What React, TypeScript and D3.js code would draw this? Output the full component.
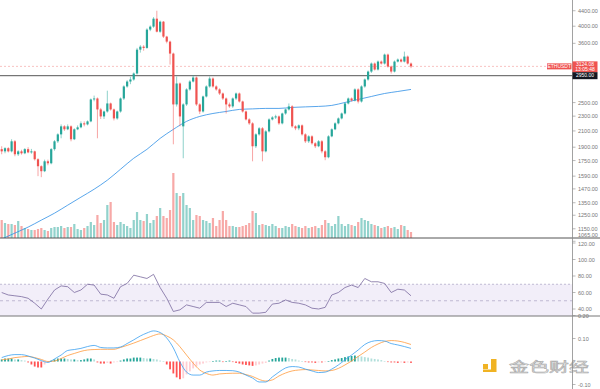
import React from 'react';
import * as d3 from 'd3';

// ETHUSDT daily candles
const opens = [
  1877, 1852, 1888, 1852, 1970, 1819, 1852, 1830, 1877, 1840,
  1852, 1764, 1690, 1639, 1742, 1721, 1877, 1970, 2056, 2160,
  2121, 2160, 1995, 2121, 2147, 2200, 2186, 2227, 2549, 2564,
  2397, 2296, 2367, 2487, 2397, 2268, 2367, 2564, 2761, 2846,
  2882, 2990, 3463, 3527, 3500, 3918, 3990, 4190, 3868, 4113,
  3752, 3638, 3380, 2472, 2812, 2160, 2472, 2711, 2846, 2917,
  2472, 2367, 2596, 2761, 2899, 2761, 2711, 2644, 2564, 2472,
  2442, 2564, 2644, 2517, 2367, 2254, 2200, 1911, 2056, 2134,
  1852, 2094, 2254, 2282, 2296, 2200, 2338, 2397, 2442, 2160,
  2134, 2173, 2056, 1970, 2031, 1946, 1911, 1970, 1852, 1786,
  2031, 2121, 2200, 2268, 2338, 2487, 2564, 2533, 2711, 2517,
  2761, 2882, 3026, 3179, 3064, 3218, 3179, 3359, 3121, 3026,
  3218, 3258, 3218, 3318, 3179,
];
const closes = [
  1852, 1888, 1852, 1970, 1819, 1852, 1830, 1877, 1840, 1852,
  1764, 1690, 1639, 1742, 1721, 1877, 1970, 2056, 2160, 2121,
  2160, 1995, 2121, 2147, 2200, 2186, 2227, 2549, 2564, 2397,
  2296, 2367, 2487, 2397, 2268, 2367, 2564, 2761, 2846, 2882,
  2990, 3463, 3527, 3500, 3918, 3990, 4190, 3868, 4113, 3752,
  3638, 3380, 2472, 2812, 2296, 2472, 2711, 2846, 2917, 2472,
  2367, 2596, 2761, 2899, 2761, 2711, 2644, 2564, 2472, 2442,
  2564, 2644, 2517, 2367, 2254, 2200, 1911, 2056, 2134, 1852,
  2094, 2254, 2282, 2296, 2200, 2338, 2397, 2442, 2160, 2134,
  2173, 2056, 1970, 2031, 1946, 1911, 1970, 1852, 1786, 2031,
  2121, 2200, 2268, 2338, 2487, 2564, 2533, 2711, 2517, 2761,
  2882, 3026, 3179, 3064, 3218, 3179, 3359, 3121, 3026, 3218,
  3258, 3218, 3318, 3179, 3124,
];
const highs = [
  1911, 1900, 1900, 1995, 1985, 1865, 1870, 1890, 1900, 1880,
  1860, 1775, 1700, 1760, 1760, 1890, 1985, 2070, 2186, 2175,
  2186, 2173, 2134, 2173, 2227, 2227, 2240, 2564, 2610, 2580,
  2420, 2380, 2690, 2500, 2410, 2380, 2580, 2780, 2870, 2930,
  3010, 3500, 3560, 3560, 3950, 4020, 4230, 4400, 4140, 4130,
  3770, 3660, 3400, 2935, 2830, 2490, 2730, 2870, 2960, 2935,
  2490, 2610, 2780, 2935, 2920, 2780, 2730, 2660, 2580, 2500,
  2580, 2660, 2660, 2530, 2380, 2270, 2215, 2070, 2150, 2150,
  2110, 2270, 2300, 2320, 2310, 2350, 2410, 2487, 2460, 2175,
  2186, 2186, 2070, 2045, 2045, 1960, 1985, 1985, 1865, 2045,
  2134, 2215, 2282, 2352, 2500, 2580, 2580, 2730, 2730, 2780,
  2900, 3045, 3200, 3200, 3240, 3240, 3380, 3380, 3140, 3240,
  3280, 3280, 3421, 3340, 3200,
];
const lows = [
  1819, 1830, 1840, 1840, 1797, 1800, 1815, 1820, 1830, 1825,
  1750, 1590, 1580, 1630, 1700, 1710, 1860, 1950, 2007, 2100,
  2110, 1970, 1985, 2110, 2134, 2160, 2173, 2215, 2520, 2007,
  2260, 2260, 2350, 2380, 2240, 2250, 2350, 2540, 2740, 2800,
  2860, 2970, 3400, 3440, 3480, 3880, 3960, 3850, 3840, 3720,
  3600, 3159, 1934, 2440, 2160, 1775, 2450, 2690, 2830, 2450,
  2330, 2350, 2580, 2740, 2740, 2690, 2620, 2540, 2338, 2420,
  2420, 2540, 2500, 2350, 2240, 2180, 1742, 1890, 2040, 1742,
  1840, 2080, 2240, 2260, 2180, 2186, 2320, 2380, 2140, 2110,
  2110, 2040, 1950, 1950, 1930, 1890, 1900, 1830, 1754, 1775,
  2020, 2110, 2186, 2254, 2324, 2472, 2517, 2517, 2487, 2500,
  2740, 2860, 3000, 3045, 3045, 3159, 3159, 3100, 2990, 3010,
  3200, 3200, 3200, 3159, 3090,
];
// volume, thousands
const volumes = [
  450, 375, 350, 350, 325, 425, 300, 250, 225, 200,
  200, 225, 250, 200, 175, 250, 275, 275, 300, 250,
  275, 275, 350, 225, 200, 250, 300, 400, 325, 575,
  375, 450, 825, 900, 400, 325, 400, 350, 300, 250,
  450, 650, 450, 425, 600, 375, 450, 550, 750, 550,
  500, 700, 1625, 1125, 1050, 1125, 825, 750, 450, 575,
  550, 450, 425, 375, 500, 300, 450, 675, 450, 300,
  300, 275, 275, 300, 325, 375, 675, 625, 325, 350,
  325, 300, 350, 300, 250, 250, 300, 275, 350, 300,
  275, 250, 300, 250, 275, 300, 250, 325, 450, 375,
  300, 350, 550, 350, 300, 350, 325, 300, 400, 500,
  450, 425, 350, 325, 300, 250, 275, 300, 250, 275,
  225, 325, 300, 200, 150,
];
// long moving average, sampled every 4th candle
const maStep = 4;
const maValues = [
  1080, 1120, 1162, 1213, 1266, 1330, 1397, 1467, 1551, 1659,
  1775, 1875, 2006, 2120, 2227, 2296, 2338, 2367, 2397, 2405,
  2412, 2412, 2427, 2435, 2442, 2457, 2502, 2549, 2596, 2644,
  2677, 2711,
];
// oscillators, sampled every 2nd candle
const oscStep = 2;
const rsiValues = [
  60, 57, 56, 55, 53, 47, 40, 52, 63, 68,
  67, 60, 63, 70, 69, 58, 57, 53, 67, 71,
  81, 79, 77, 82, 66, 53, 37, 39, 45, 43,
  41, 48, 48, 48, 43, 47, 45, 43, 35, 35,
  36, 46, 47, 51, 48, 47, 45, 41, 40, 42,
  57, 60, 66, 69, 66, 77, 73, 73, 71, 60,
  64, 63, 56,
];
const macdValues = [
  0.017, 0.026, 0.030, 0.030, 0.024, 0.015, 0.004, -0.004, 0.011, 0.028,
  0.048, 0.052, 0.057, 0.065, 0.070, 0.061, 0.059, 0.059, 0.063, 0.078,
  0.094, 0.111, 0.124, 0.133, 0.126, 0.102, 0.059, -0.002, -0.046, -0.059,
  -0.059, -0.046, -0.041, -0.039, -0.039, -0.040, -0.046, -0.059, -0.072, -0.089,
  -0.089, -0.067, -0.046, -0.028, -0.022, -0.024, -0.033, -0.041, -0.048, -0.046,
  -0.033, -0.015, 0.007, 0.028, 0.050, 0.074, 0.087, 0.091, 0.089, 0.078,
  0.072, 0.065, 0.057,
];
const signalValues = [
  0.007, 0.011, 0.017, 0.020, 0.022, 0.017, 0.009, 0.000, 0.002, 0.013,
  0.026, 0.035, 0.044, 0.050, 0.052, 0.053, 0.053, 0.053, 0.061, 0.070,
  0.080, 0.091, 0.102, 0.113, 0.120, 0.111, 0.094, 0.064, 0.028, -0.007,
  -0.037, -0.052, -0.059, -0.054, -0.052, -0.051, -0.051, -0.057, -0.065, -0.078,
  -0.085, -0.080, -0.063, -0.050, -0.041, -0.037, -0.035, -0.037, -0.039, -0.041,
  -0.039, -0.030, -0.015, 0.002, 0.022, 0.041, 0.061, 0.076, 0.087, 0.091,
  0.089, 0.083, 0.074,
];
const histValues = [
  0.009, 0.013, 0.013, 0.013, 0.009, 0.009, 0.006, 0.004, -0.004, -0.013,
  -0.022, -0.026, -0.026, -0.013, -0.004, 0.004, 0.009, 0.013, 0.013, 0.013,
  0.011, 0.009, 0.009, 0.006, 0.006, 0.009, 0.013, 0.013, 0.009, -0.004,
  -0.009, -0.009, -0.006, -0.009, -0.004, -0.002, 0.004, 0.009, 0.013, 0.013,
  0.017, 0.017, 0.017, 0.015, 0.013, 0.013, 0.011, 0.009, 0.004, 0.002,
  -0.013, -0.034, -0.052, -0.069, -0.077, -0.073, -0.056, -0.043, -0.030, -0.022,
  -0.013, -0.009, -0.004, -0.002, 0.002, 0.004, 0.004, -0.002, 0.002, 0.004,
  -0.002, -0.006, -0.009, -0.013, -0.015, -0.017, -0.019, -0.017, -0.013, -0.009,
  -0.006, 0.004, 0.011, 0.015, 0.017, 0.017, 0.017, 0.015, 0.011, 0.009,
  0.004, 0.002, -0.002, -0.004, -0.004, -0.006, -0.004, -0.004, -0.002, 0.002,
  0.006, 0.009, 0.013, 0.015, 0.019, 0.022, 0.024, 0.026, 0.024, 0.022,
  0.019, 0.017, 0.013, 0.011, 0.009, 0.006, 0.002, -0.002, -0.004, -0.004,
  -0.006, -0.004, -0.006, -0.004, -0.006,
];

const priceTicks = [4400, 4000, 3600, 2500, 2300, 2100, 1900, 1750, 1590, 1470, 1350, 1250, 1150, 1065];
const rsiTicks = [120, 100, 80, 60, 40];
const macdTicks = [0.2, 0.1, -0.1];
const symbol = 'ETHUSDT';
const lastPrice = 3124.08;
const countdown = '13:05:48';
const levelPrice = 2950;
const watermark = '金色财经';

const UP = '#26a69a';
const DOWN = '#ef5350';
const AXIS_X = 572.5;
const FONT = '"Liberation Sans", Arial, sans-serif';

export default function App() {
  const n = closes.length;
  const x = d3.scaleLinear().domain([0, n - 1]).range([1.7, 411]);
  const yPrice = d3.scaleLog().domain([1080, 4700]).range([239, 0]);
  const yVol = d3.scaleLinear().domain([0, d3.max(volumes) as number]).range([238, 173]);
  const yRsi = d3.scaleLinear().domain([120, 40]).range([243, 309]);
  const yMacd = d3.scaleLinear().domain([0.2, -0.1]).range([315.5, 384.5]);

  const bodyW = 2.2;

  const maLine = d3.line<number>()
    .x((_, i) => x(i * maStep))
    .y(d => yPrice(d))
    .curve(d3.curveMonotoneX);
  const rsiLine = d3.line<number>()
    .x((_, i) => x(i * oscStep))
    .y(d => yRsi(d));
  const macdLine = d3.line<number>()
    .x((_, i) => x(i * oscStep))
    .y(d => yMacd(d))
    .curve(d3.curveMonotoneX);

  const histColor = (v: number, i: number) => {
    const prev = i > 0 ? histValues[i - 1] : v;
    if (v >= 0) return v >= prev ? '#26a69a' : '#b2dfdb';
    return v <= prev ? '#ff5252' : '#ffcdd2';
  };

  const lastY = yPrice(lastPrice);
  const levelY = yPrice(levelPrice);

  return (
    <svg width={600} height={389} style={{ position: 'absolute', left: 0, top: 0, background: '#fff' }}
      fontFamily={FONT}>
      <defs>
        <clipPath id="cMain"><rect x={0} y={0} width={AXIS_X} height={238} /></clipPath>
        <clipPath id="cRsi"><rect x={0} y={238} width={AXIS_X} height={78} /></clipPath>
        <clipPath id="cMacd"><rect x={0} y={316} width={AXIS_X} height={73} /></clipPath>
      </defs>

      {/* main panel */}
      <g clipPath="url(#cMain)">
        {volumes.map((v, i) => (
          <rect key={'v' + i} x={x(i) - bodyW / 2} y={yVol(v)} width={bodyW} height={238 - yVol(v)}
            fill={closes[i] >= opens[i] ? UP : DOWN} opacity={0.5} />
        ))}
        <line x1={0} x2={AXIS_X} y1={lastY} y2={lastY} stroke={DOWN} strokeOpacity={0.5}
          strokeWidth={0.7} strokeDasharray="2 2" />
        <line x1={0} x2={AXIS_X} y1={levelY} y2={levelY} stroke="#555" strokeWidth={1} />
        <path d={maLine(maValues) || ''} fill="none" stroke="#2f8fe6" strokeWidth={0.8} />
        {closes.map((c, i) => {
          const o = opens[i];
          const col = c >= o ? UP : DOWN;
          const top = yPrice(Math.max(o, c));
          const bot = yPrice(Math.min(o, c));
          return (
            <g key={'c' + i}>
              <line x1={x(i)} x2={x(i)} y1={yPrice(highs[i])} y2={yPrice(lows[i])} stroke={col}
                strokeWidth={0.7} strokeOpacity={0.75} />
              <rect x={x(i) - bodyW / 2} y={top} width={bodyW} height={Math.max(0.8, bot - top)} fill={col} />
            </g>
          );
        })}
      </g>

      {/* RSI panel */}
      <g clipPath="url(#cRsi)">
        <rect x={0} y={yRsi(70)} width={AXIS_X} height={yRsi(30) - yRsi(70)} fill="#7e57c2" fillOpacity={0.1} />
        <line x1={0} x2={AXIS_X} y1={yRsi(70)} y2={yRsi(70)} stroke="#9d94b8" strokeWidth={0.6} strokeDasharray="2 2" />
        <line x1={0} x2={AXIS_X} y1={yRsi(50)} y2={yRsi(50)} stroke="#9d94b8" strokeWidth={0.6} strokeDasharray="3 3" />
        <path d={rsiLine(rsiValues) || ''} fill="none" stroke="#7a6a9e" strokeWidth={0.8} />
      </g>

      {/* MACD panel */}
      <g clipPath="url(#cMacd)">
        {histValues.map((v, i) => (
          <rect key={'h' + i} x={x(i) - 0.9} y={Math.min(yMacd(v), yMacd(0))} width={1.8}
            height={Math.max(0.6, Math.abs(yMacd(v) - yMacd(0)))} fill={histColor(v, i)} />
        ))}
        <path d={macdLine(signalValues) || ''} fill="none" stroke="#ff9a3c" strokeWidth={0.8} />
        <path d={macdLine(macdValues) || ''} fill="none" stroke="#3a9ff0" strokeWidth={0.8} />
      </g>

      {/* watermark */}
      <g>
        <rect x={483} y={364} width={5} height={5} fill="#f0b323" />
        <path d="M491,359 H496.5 V372 H483 V369.5 H491 Z" fill="#f0b323" />
        <text transform="translate(509,371) scale(1,0.64)" fontSize={20}
          fontFamily='"Noto Sans CJK SC", sans-serif' fill="#e4e4e4" stroke="#a9a9a9" strokeWidth={0.8}
          textLength={80} lengthAdjust="spacingAndGlyphs">{watermark}</text>
      </g>

      {/* separators and axis */}
      <line x1={0} x2={600} y1={238} y2={238} stroke="#555" strokeWidth={1} />
      <line x1={0} x2={600} y1={316} y2={316} stroke="#777" strokeWidth={1} />
      <line x1={AXIS_X} x2={AXIS_X} y1={0} y2={389} stroke="#8a8a8a" strokeWidth={0.8} />

      {priceTicks.map(t => (
        <g key={'p' + t}>
          <line x1={AXIS_X} x2={AXIS_X + 3} y1={yPrice(t)} y2={yPrice(t)} stroke="#8a8a8a" strokeWidth={0.6} />
          <text x={578} y={Math.min(yPrice(t) + 2, 236.5)} fontSize={5.5} fill="#777">{t.toFixed(2)}</text>
        </g>
      ))}
      {rsiTicks.map(t => (
        <g key={'r' + t}>
          <line x1={AXIS_X} x2={AXIS_X + 3} y1={yRsi(t)} y2={yRsi(t)} stroke="#8a8a8a" strokeWidth={0.6} />
          <text x={578} y={Math.max(yRsi(t) + 2, 245.5)} fontSize={5.5} fill="#777">{t.toFixed(2)}</text>
        </g>
      ))}
      {macdTicks.map(t => (
        <g key={'m' + t}>
          <line x1={AXIS_X} x2={AXIS_X + 3} y1={yMacd(t)} y2={yMacd(t)} stroke="#8a8a8a" strokeWidth={0.6} />
          <text x={578} y={yMacd(t) + 2} fontSize={5.5} fill="#777">{t.toFixed(2)}</text>
        </g>
      ))}

      {/* price labels */}
      <rect x={547} y={lastY - 3} width={24.5} height={6} fill={DOWN} />
      <text x={559.2} y={lastY + 1.8} fontSize={5} fill="#fff" textAnchor="middle">{symbol}</text>
      <rect x={AXIS_X} y={lastY - 5} width={25} height={11} fill={DOWN} />
      <text x={585} y={lastY - 0.5} fontSize={5} fill="#fff" textAnchor="middle">{lastPrice.toFixed(2)}</text>
      <text x={585} y={lastY + 4.5} fontSize={5} fill="#fff" textAnchor="middle">{countdown}</text>
      <rect x={AXIS_X} y={levelY - 3.5} width={25} height={7} fill="#131722" />
      <text x={585} y={levelY + 1.8} fontSize={5} fill="#fff" textAnchor="middle">{levelPrice.toFixed(2)}</text>
    </svg>
  );
}
